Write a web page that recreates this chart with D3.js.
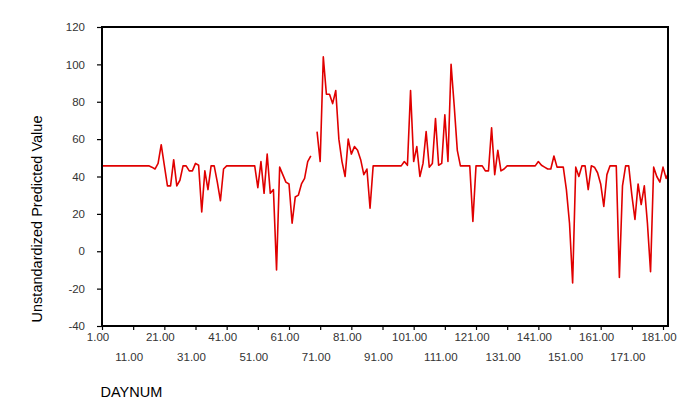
<!DOCTYPE html>
<html>
<head>
<meta charset="utf-8">
<script src="https://cdn.jsdelivr.net/npm/d3@7"></script>
<style>
  html, body { margin: 0; padding: 0; background: #fff; }
  svg { display: block; font-family: "Liberation Sans", Arial, sans-serif; }
</style>
</head>
<body>
<svg id="chart" width="695" height="416"></svg>
<script>
// ---- data ----
const dayStart = 1;
const predictedValues = [
  45.7, 45.7, 45.7, 45.7, 45.7, 45.7, 45.7, 45.7, 45.7, 45.7,   // 1-10
  45.7, 45.7, 45.7, 45.7, 45.7, 45.7, 45, 44, 47, 57,           // 11-20
  46, 35, 35, 49, 35, 38, 45.7, 45.7, 43, 43,                   // 21-30
  47, 46, 21, 43, 33, 45.7, 45.7, 37, 27, 44,                   // 31-40
  45.7, 45.7, 45.7, 45.7, 45.7, 45.7, 45.7, 45.7, 45.7, 45.7,   // 41-50
  34, 48, 31, 52, 31, 33, -10, 45, 41, 37,                      // 51-60
  36, 15, 29, 30, 36, 39, 48, 51, null, 64,                     // 61-70
  48, 104, 84, 84, 79, 86, 60, 48, 40, 60,                      // 71-80
  52, 56, 54, 49, 41, 44, 23, 45.7, 45.7, 45.7,                 // 81-90
  45.7, 45.7, 45.7, 45.7, 45.7, 45.7, 45.7, 48, 46, 86,         // 91-100
  48, 56, 40, 47, 64, 45, 47, 71, 46, 47,                       // 101-110
  73, 48, 100, 78, 54, 45.7, 45.7, 45.7, 45.7, 16,              // 111-120
  45.7, 45.7, 45.7, 43, 43, 66, 41, 54, 43, 44,                 // 121-130
  45.7, 45.7, 45.7, 45.7, 45.7, 45.7, 45.7, 45.7, 45.7, 45.7,   // 131-140
  48, 46, 45, 44, 44, 51, 45, 45, 45, 33,                       // 141-150
  15, -17, 45, 40, 45.7, 45.7, 33, 45.7, 45, 42,                // 151-160
  36, 24, 41, 45.7, 45.7, 45.7, -14, 35, 45.7, 45.7,            // 161-170
  30, 17, 36, 25, 35, 15, -11, 45, 40, 37,                      // 171-180
  45, 39, 43                                                    // 181-183
];
const dayNums = predictedValues.map((v, i) => dayStart + i);
const xTickValues = [1, 11, 21, 31, 41, 51, 61, 71, 81, 91, 101, 111, 121, 131, 141, 151, 161, 171, 181];
const yTickValues = [-40, -20, 0, 20, 40, 60, 80, 100, 120];
const xTitle = "DAYNUM";
const yTitle = "Unstandardized Predicted Value";

// ---- layout ----
const L = 102, R = 668, T = 27, B = 326;
const svg = d3.select("#chart");

const x = d3.scaleLinear().domain([1, 182.6]).range([L, R]);
const y = d3.scaleLinear().domain([-40, 120]).range([B, T]);

svg.append("defs").append("clipPath").attr("id", "clip")
  .append("rect").attr("x", L).attr("y", T).attr("width", R - L).attr("height", B - T);

// line
const line = d3.line()
  .defined(d => d.v !== null)
  .x(d => x(d.d))
  .y(d => y(d.v));

const series = dayNums.map((d, i) => ({ d: d, v: predictedValues[i] }));

svg.append("path")
  .datum(series)
  .attr("clip-path", "url(#clip)")
  .attr("fill", "none")
  .attr("stroke", "#e00000")
  .attr("stroke-width", 1.6)
  .attr("stroke-linejoin", "round")
  .attr("d", line);

// y axis
const yAxis = svg.append("g")
  .attr("transform", `translate(${L},0)`)
  .call(d3.axisLeft(y).tickValues(yTickValues).tickSize(5).tickPadding(12).tickFormat(d => String(d)));
yAxis.select(".domain").remove();
yAxis.selectAll(".tick line").attr("stroke", "#000").attr("stroke-width", 1.2);
yAxis.selectAll(".tick text")
  .attr("font-size", 11.5)
  .attr("fill", "#333")
  .attr("font-family", "'Liberation Sans', Arial, sans-serif");

// x axis
const xAxis = svg.append("g")
  .attr("transform", `translate(0,${B})`)
  .call(d3.axisBottom(x).tickValues(xTickValues).tickSize(4).tickFormat(d => d.toFixed(2)));
xAxis.select(".domain").remove();
xAxis.selectAll(".tick line").attr("stroke", "#000").attr("stroke-width", 1.2);
xAxis.selectAll(".tick text")
  .attr("font-size", 11.5)
  .attr("fill", "#333")
  .attr("font-family", "'Liberation Sans', Arial, sans-serif")
  .attr("dy", 0)
  .attr("dx", -4.5)
  .attr("y", (d, i) => i % 2 === 0 ? 15 : 34.5);

// frame
svg.append("rect")
  .attr("x", L).attr("y", T)
  .attr("width", R - L).attr("height", B - T)
  .attr("fill", "none")
  .attr("stroke", "#000")
  .attr("stroke-width", 2);

// titles
svg.append("text")
  .attr("x", 100.5).attr("y", 397)
  .attr("font-size", 14.5)
  .attr("fill", "#000")
  .text(xTitle);

svg.append("text")
  .attr("transform", "translate(41.5,219) rotate(-90)")
  .attr("text-anchor", "middle")
  .attr("font-size", 14.5)
  .attr("fill", "#000")
  .text(yTitle);
</script>
</body>
</html>
